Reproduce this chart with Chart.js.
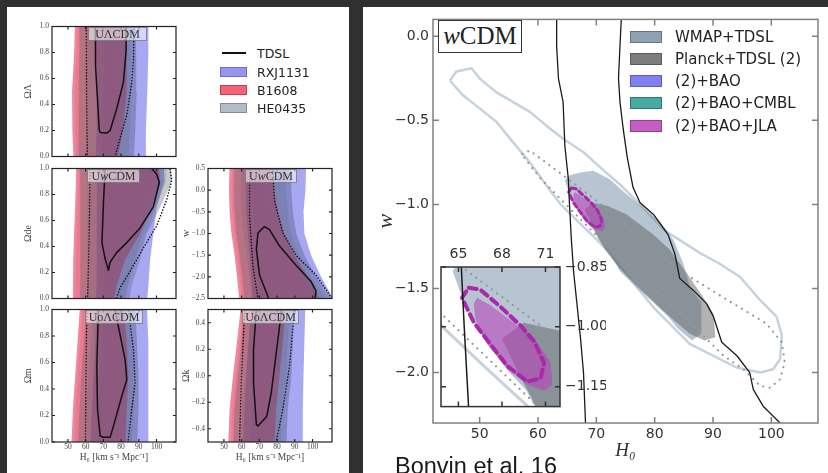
<!DOCTYPE html>
<html>
<head>
<meta charset="utf-8">
<script src="https://cdn.jsdelivr.net/npm/chart.js@4.4.1/dist/chart.umd.min.js"></script>
<style>
  body { margin: 0; width: 828px; height: 473px; overflow: hidden; position: relative; background: #303030; font-family: "DejaVu Sans", sans-serif; }
  .panel { position: absolute; background: #fff; }
  canvas { position: absolute; }
  .tag { position: absolute; box-sizing: border-box; text-align: center; font-family: "Liberation Serif", serif; color: #333;
         background: rgba(255,255,255,0.55); border: 1px solid rgba(80,80,80,0.6); font-size: 12px; line-height: 12px; }
  .row { position: absolute; display: flex; align-items: center; color: #222; white-space: nowrap; }
  .sw { box-sizing: border-box; border: 1px solid; display: inline-block; }
</style>
</head>
<body>
<div class="panel" style="left:7px;top:7px;width:342px;height:466px"></div>
<div class="panel" style="left:363px;top:7px;width:465px;height:466px"></div>

<canvas id="pA" width="170" height="145" style="left:10px;top:19px"></canvas>
<canvas id="pB" width="170" height="145" style="left:10px;top:161px"></canvas>
<canvas id="pC" width="170" height="171" style="left:10px;top:302px"></canvas>
<canvas id="pD" width="168" height="145" style="left:168px;top:161px"></canvas>
<canvas id="pE" width="168" height="171" style="left:168px;top:302px"></canvas>
<canvas id="main" width="465" height="466" style="left:363px;top:7px"></canvas>
<canvas id="inset" width="170" height="180" style="left:436px;top:240px"></canvas>

<!-- panel tags -->
<div class="tag" style="left:88px;top:27px;width:59px;height:14px">UΛCDM</div>
<div class="tag" style="left:87px;top:169px;width:53px;height:14px">U<i>w</i>CDM</div>
<div class="tag" style="left:85px;top:310px;width:58px;height:14px">UoΛCDM</div>
<div class="tag" style="left:245px;top:169px;width:52px;height:14px">U<i>w</i>CDM</div>
<div class="tag" style="left:242px;top:310px;width:57px;height:14px">UoΛCDM</div>

<!-- lens legend -->
<div class="row" style="left:220px;top:46px;height:14px;font-size:12.5px"><span style="display:inline-block;width:24px;height:2px;background:#111;margin:0 11px 0 2px"></span>TDSL</div>
<div class="row" style="left:220px;top:65px;height:14px;font-size:12.5px"><span class="sw" style="width:27px;height:10px;background:rgb(150,150,240);border-color:rgb(110,110,200);margin-right:10px"></span>RXJ1131</div>
<div class="row" style="left:220px;top:83px;height:14px;font-size:12.5px"><span class="sw" style="width:27px;height:10px;background:rgb(240,100,118);border-color:rgb(200,60,80);margin-right:10px"></span>B1608</div>
<div class="row" style="left:220px;top:101px;height:14px;font-size:12.5px"><span class="sw" style="width:27px;height:10px;background:rgb(178,188,198);border-color:rgb(130,140,150);margin-right:10px"></span>HE0435</div>

<!-- wCDM legend -->
<div class="row" style="left:630px;top:28px;height:18px;font-size:15px"><span class="sw" style="width:32px;height:12px;background:rgb(142,162,180);border-color:rgb(100,115,130);margin-right:13px"></span>WMAP+TDSL</div>
<div class="row" style="left:630px;top:50px;height:18px;font-size:15px"><span class="sw" style="width:32px;height:12px;background:rgb(125,125,125);border-color:rgb(90,90,90);margin-right:13px"></span>Planck+TDSL (2)</div>
<div class="row" style="left:630px;top:72px;height:18px;font-size:15px"><span class="sw" style="width:32px;height:12px;background:rgb(128,128,240);border-color:rgb(90,90,200);margin-right:13px"></span>(2)+BAO</div>
<div class="row" style="left:630px;top:94px;height:18px;font-size:15px"><span class="sw" style="width:32px;height:12px;background:rgb(72,170,160);border-color:rgb(40,120,110);margin-right:13px"></span>(2)+BAO+CMBL</div>
<div class="row" style="left:630px;top:117px;height:18px;font-size:15px"><span class="sw" style="width:32px;height:12px;background:rgb(195,95,195);border-color:rgb(150,60,150);margin-right:13px"></span>(2)+BAO+JLA</div>

<div style="position:absolute;left:438px;top:20px;width:84px;height:33px;box-sizing:border-box;border:1.5px solid #333;background:#fff;font-family:'Liberation Serif',serif;font-size:25px;line-height:30px;text-align:center;color:#222"><i>w</i>CDM</div>
<div style="position:absolute;left:395px;top:455px;font-family:'Liberation Sans',Arial,sans-serif;font-size:23.5px;line-height:23.5px;color:#1a1a1a;white-space:nowrap">Bonvin et al. 16</div>

<script>
// ---- tick values ----
const h0Ticks = [50, 60, 70, 80, 90, 100];
const wTicks = [0, -0.5, -1.0, -1.5, -2.0];
const insetH0Ticks = [65, 68, 71];
const insetWTicks = [-0.85, -1.0, -1.15];
const lensH0Ticks = [50, 60, 70, 80, 90, 100];
const omegaTicks = [0, 0.2, 0.4, 0.6, 0.8, 1.0];
const lensWTicks = [0.5, 0, -0.5, -1.0, -1.5, -2.0, -2.5];
const omegaKTicks = [0.4, 0.2, 0, -0.2, -0.4];

// ---- wCDM contours (H0, w) ----
const wmapOuter = [[44.9,-0.265],[46.0,-0.21],[48.6,-0.19],[50.1,-0.255],[52.9,-0.334],[58.6,-0.45],[62.1,-0.55],[64.3,-0.61],[67.8,-0.69],[71.0,-0.79],[74.0,-0.88],[77.5,-1.0],[81.5,-1.15],[87.8,-1.29],[91.0,-1.35],[94.6,-1.43],[98.1,-1.57],[100.9,-1.667],[101.8,-1.78],[101.5,-1.92],[100.3,-1.98],[98.1,-2.0],[94.0,-1.97],[90.0,-1.90],[86.0,-1.83],[80.0,-1.62],[75.0,-1.41],[72.0,-1.28],[69.8,-1.2],[66.8,-1.1],[63.9,-1.0],[61.5,-0.89],[58.6,-0.75],[55.0,-0.6],[52.9,-0.51],[50.1,-0.432],[47.2,-0.353],[44.9,-0.265]];
const wmapInner = [[64.6,-0.86],[65.2,-0.83],[67.2,-0.81],[69.5,-0.80],[72.3,-0.85],[75.2,-0.94],[78.1,-1.02],[80.9,-1.10],[83.2,-1.21],[84.9,-1.35],[86.1,-1.50],[88.0,-1.58],[88.0,-1.77],[86.4,-1.81],[84.0,-1.74],[82.1,-1.66],[78.1,-1.53],[74.1,-1.40],[72.3,-1.29],[70.4,-1.21],[69.7,-1.16],[68.4,-1.11],[67.2,-1.05],[66.1,-0.99],[65.2,-0.92]];
const planckInner = [[68.0,-1.03],[69.5,-0.99],[72.0,-1.01],[75.2,-1.06],[79.8,-1.18],[82.6,-1.27],[85.5,-1.41],[88.3,-1.55],[90.1,-1.65],[90.4,-1.79],[88.5,-1.81],[86.0,-1.77],[82.0,-1.65],[78.0,-1.52],[74.0,-1.38],[71.5,-1.27],[70.35,-1.2],[69.2,-1.12]];
const planckOuter = [[57.3,-0.70],[58.6,-0.68],[65.6,-0.86],[71.9,-1.03],[78.0,-1.22],[85.5,-1.42],[93.5,-1.59],[99.2,-1.71],[101.8,-1.82],[102.3,-1.94],[101.5,-2.04],[99.8,-2.09],[98.1,-2.08],[95.2,-1.98],[91.8,-1.9],[88.9,-1.8],[80.0,-1.5],[70.2,-1.19],[63.9,-0.97],[60.3,-0.84],[57.8,-0.73],[57.3,-0.70]];
const jlaInner = [[66.29,-0.927],[67.21,-0.946],[68.83,-0.99],[70.21,-1.028],[71.36,-1.09],[71.48,-1.145],[70.9,-1.16],[69.75,-1.145],[68.37,-1.106],[66.98,-1.044],[66.17,-0.981],[66.06,-0.942]];
const jlaOuter = [[65.71,-0.902],[66.52,-0.907],[67.9,-0.95],[69.29,-0.997],[70.21,-1.036],[70.9,-1.09],[70.67,-1.129],[69.75,-1.137],[68.37,-1.098],[67.21,-1.044],[66.06,-0.989],[65.25,-0.927],[65.71,-0.902]];
const tdslLeft = [[63.2,0.15],[63.2,-0.06],[63.5,-0.25],[64.3,-0.39],[64.6,-0.65],[65.2,-0.85],[65.4,-1.0],[65.7,-1.2],[66.1,-1.4],[66.7,-1.6],[67.3,-1.8],[67.8,-2.0],[68.2,-2.35]];
const tdslRight = [[74.35,0.15],[74.05,-0.06],[73.8,-0.25],[74.05,-0.39],[74.6,-0.55],[75.3,-0.72],[76.3,-0.9],[77.5,-0.99],[79.8,-1.06],[82.3,-1.18],[83.5,-1.3],[84.3,-1.44],[86.6,-1.51],[88.9,-1.59],[90.1,-1.67],[91.5,-1.82],[94.1,-1.9],[96.3,-2.0],[96.9,-2.1],[98.6,-2.2],[101.5,-2.3],[102,-2.35]];

// ---- single-lens bands: [left H0, right H0] at each level ----
const lcdmLevels = [1.05, 0.8, 0.5, 0.2, -0.05];
const lcdmB1608_95 = [[54,83.2],[53.5,83.2],[52.3,83.2],[52.5,81],[53.2,77.6]];
const lcdmB1608_68 = [[55.5,79],[55,79],[53.8,79],[54,77],[54.7,73.5]];
const lcdmHE0435_95 = [[56.5,88],[56.5,88.5],[56,88.8],[56,88],[56,87]];
const lcdmHE0435_68 = [[60.5,85],[60.5,85.5],[60,85.8],[60,85],[60,84]];
const lcdmRXJ_95 = [[66.3,95.4],[66.3,95.4],[66.3,94.8],[66,94],[65.5,93.5]];
const lcdmRXJ_68 = [[70.3,88],[70.3,88.5],[70.3,88.8],[70,88],[69.5,87]];
const lcdmTdsl68 = [[65.4,1.06],[65.4,1.0],[65.8,0.69],[66.7,0.44],[67.6,0.21],[68.2,0.185],[72,0.18],[73.8,0.2],[77.6,0.37],[81.3,0.57],[82.8,0.81],[82.8,1.06],[65.4,1.06]];
const lcdmTdsl95 = [[60.3,1.06],[60.5,0.5],[61,-0.06],[76.6,-0.06],[76.6,0],[79.5,0.144],[83.2,0.318],[86.0,0.566],[87,0.74],[87.3,1.06],[60.3,1.06]];

const wcdmLevels = [1.05, 0.9, 0.7, 0.5, 0.3, 0.1, -0.05];
const wcdmB1608_95 = [[54.7,101],[54.5,102],[54,97.3],[53.5,90.7],[53,82.3],[52.8,77.6],[52.8,75.5]];
const wcdmB1608_68 = [[56.2,97],[56,98],[55.5,93.5],[55,87],[54.5,79],[54.3,74.5],[54.3,72.5]];
const wcdmHE0435_95 = [[56.9,108],[56.9,108.6],[56.9,102],[56.9,94.5],[56.9,90.7],[56.9,86],[56.9,84]];
const wcdmHE0435_68 = [[60.9,105],[60.9,105.5],[60.9,99],[60.9,92],[60.9,88],[60.9,83.5],[60.9,81.5]];
const wcdmRXJ_95 = [[66.3,104],[66.3,104.5],[66.3,100.1],[66.3,98.2],[66,96.4],[66,95.4],[65.5,94.5]];
const wcdmRXJ_68 = [[70.3,101],[70.3,103],[70.3,99],[70.3,94],[70,88],[70,84],[69.5,82]];
const wcdmTdsl68 = [[71.0,1.06],[71.0,1.0],[70.1,0.755],[69.2,0.43],[71,0.305],[72.9,0.217],[73.8,0.28],[77.6,0.355],[83.2,0.43],[90.7,0.543],[98.2,0.705],[101.6,0.892],[100.1,0.955],[97.3,1.0],[97.3,1.06],[71.0,1.06]];
const wcdmTdsl95 = [[62.6,1.06],[62.0,0.5],[61.0,-0.06],[77.6,-0.06],[77.6,0.01],[79.5,0.085],[85.1,0.21],[92.6,0.39],[100.1,0.56],[105.75,0.76],[108.6,0.91],[107.6,1.0],[107.6,1.06],[62.6,1.06]];

const olcdmLevels = [1.05, 0.75, 0.5, 0.25, -0.05];
const olcdmB1608_95 = [[56.9,81.3],[55.4,83.2],[54.1,84.1],[52.8,83.2],[51.9,82.3]];
const olcdmB1608_68 = [[58.4,77.5],[56.9,79.5],[55.6,80.5],[54.3,79.5],[53.4,78.5]];
const olcdmHE0435_95 = [[60.5,87.9],[59,88.9],[57.5,89.8],[56.5,89.8],[55.5,88.9]];
const olcdmHE0435_68 = [[64.5,85],[63,86],[61.5,87],[60.5,87],[59.5,86]];
const olcdmRXJ_95 = [[66.3,94.5],[65.4,95.4],[64.5,95.4],[63.5,95.4],[62.6,95.4]];
const olcdmRXJ_68 = [[70.3,87.9],[69.4,88.9],[68.5,89.8],[67.5,89.8],[66.6,88.9]];
const olcdmTdsl68 = [[67.2,1.06],[67.2,1.0],[66.3,0.57],[66.7,0.245],[68.2,0.045],[70.1,0.035],[73.8,0.035],[75.7,0.12],[80.4,0.345],[83.2,0.47],[82.3,0.62],[78.5,0.87],[76.6,1.0],[76.6,1.06],[67.2,1.06]];
const olcdmTdsl95 = [[60.7,1.06],[60.2,0.5],[59.8,-0.06],[84.1,-0.06],[84.1,0.02],[86.0,0.245],[87.9,0.445],[87,0.695],[84.1,1.0],[84.1,1.06],[60.7,1.06]];

const wLevels = [0.6, 0, -0.5, -1.0, -1.5, -2.0, -2.6];
const wB1608_95 = [[53.2,77.6],[52.8,78.5],[53.2,80.4],[54.2,84.1],[56,89.8],[57.4,97.3],[58.8,105]];
const wB1608_68 = [[54.7,73.5],[54.3,74.5],[54.7,76.5],[55.7,80],[57.5,85.5],[58.9,93],[60.3,101]];
const wHE0435_95 = [[56,88],[55.6,88],[56,88.9],[57,90.8],[58.8,95.4],[60.3,102],[61.6,112]];
const wHE0435_68 = [[60,85],[59.6,85],[60,86],[61,87.8],[62.8,92.4],[64.3,99],[65.6,109]];
const wRXJ_95 = [[62.6,96.4],[62.2,96],[62.6,94.9],[63.5,95.4],[64.5,99.2],[65.4,104.8],[66.3,113]];
const wRXJ_68 = [[66.6,88],[66.2,88],[66.6,88.9],[67.5,90.8],[68.5,95.4],[69.4,102],[70.3,110]];
const wTdsl68 = [[72.9,-0.84],[69.2,-0.99],[68.3,-1.36],[70.1,-1.96],[74.8,-2.45],[75.5,-2.6],[101,-2.6],[102,-2.33],[99.2,-2.11],[90.8,-1.74],[81.4,-1.29],[75.7,-0.91],[72.9,-0.84]];
const wTdsl95 = [[64.5,0.6],[64.5,-0.61],[66.3,-1.74],[69.2,-2.5],[69.5,-2.6],[112,-2.6],[109.5,-2.41],[102,-1.96],[90.8,-1.51],[83.2,-0.985],[78.5,-0.235],[77.6,0.5],[77.6,0.6],[64.5,0.6]];

const okLevels = [0.55, 0.25, 0, -0.25, -0.55];
const okB1608_95 = [[59.8,85.1],[57.3,83.2],[55.1,81.3],[53.2,79.5],[52.3,78.5]];
const okB1608_68 = [[61.3,81],[58.8,79],[56.6,77],[54.7,75.5],[53.8,74.5]];
const okHE0435_95 = [[61.6,89.8],[59.8,88.9],[57.9,88],[56,86],[55.1,85.1]];
const okHE0435_68 = [[65.6,87],[63.8,86],[61.9,85],[60,83],[59.1,82]];
const okRXJ_95 = [[65.4,96],[63.9,95.4],[62.6,94.9],[61.6,94.5],[60.7,94.1]];
const okRXJ_68 = [[69.4,89.8],[67.9,88.9],[66.6,88],[65.6,86],[64.7,85.1]];
const okTdsl68 = [[68.3,0.56],[68.3,0.5],[66.7,0.195],[66.7,-0.055],[68.3,-0.367],[69.2,-0.38],[74.2,-0.305],[76.7,-0.13],[79.5,0.17],[82.3,0.47],[82.4,0.56],[68.3,0.56]];
const okTdsl95 = [[61.7,0.56],[61.7,0.5],[59.8,-0.05],[58.8,-0.5],[58.8,-0.56],[79.4,-0.56],[79.5,-0.5],[83.2,-0.255],[87.0,0.07],[89.8,0.5],[89.8,0.56],[61.7,0.56]];

// ---- helpers ----
Chart.defaults.font.family = 'DejaVu Sans';

const fmt = (v, dec) => (v < 0 ? '\u2212' : '') + Math.abs(v).toFixed(dec);
const toXY = pts => pts.map(p => ({ x: p[0], y: p[1] }));

// closed polygon from the left and right edges of a band
function band(levels, pairs) {
  const left = levels.map((y, i) => [pairs[i][0], y]);
  const right = levels.map((y, i) => [pairs[i][1], y]).reverse();
  return left.concat(right);
}

function layer(pts, style) {
  return Object.assign({
    data: toXY(pts), showLine: true, pointRadius: 0, pointHoverRadius: 0,
    tension: 0, clip: 0, fill: false, borderWidth: 0, borderColor: 'rgba(0,0,0,0)'
  }, style);
}
const filled = (pts, color) => layer(pts, { fill: 'shape', backgroundColor: color });
const stroked = (pts, color, width, dash) => layer(pts, {
  borderColor: color, borderWidth: width, borderDash: dash || [],
  borderCapStyle: dash ? 'round' : 'butt', borderJoinStyle: 'round'
});

// datasets are listed bottom to top; Chart.js draws low "order" last
const stack = list => list.map((d, i) => Object.assign(d, { order: list.length - i }));

// box around the plot area with inward ticks on all four sides
const framePlugin = {
  id: 'frame',
  beforeDatasetsDraw(chart, args, opts) {
    if (!opts.background) return;
    const a = chart.chartArea, ctx = chart.ctx;
    ctx.save();
    ctx.fillStyle = opts.background;
    ctx.fillRect(a.left, a.top, a.width, a.height);
    ctx.restore();
  },
  afterDatasetsDraw(chart, args, opts) {
    const { ctx, chartArea: a, scales } = chart;
    const t = opts.tick;
    ctx.save();
    ctx.strokeStyle = opts.color;
    ctx.lineWidth = opts.width;
    ctx.beginPath();
    for (const tk of scales.x.ticks) {
      const p = scales.x.getPixelForValue(tk.value);
      ctx.moveTo(p, a.bottom); ctx.lineTo(p, a.bottom - t);
      ctx.moveTo(p, a.top); ctx.lineTo(p, a.top + t);
    }
    for (const tk of scales.y.ticks) {
      const p = scales.y.getPixelForValue(tk.value);
      ctx.moveTo(a.left, p); ctx.lineTo(a.left + t, p);
      ctx.moveTo(a.right, p); ctx.lineTo(a.right - t, p);
    }
    ctx.stroke();
    ctx.strokeRect(a.left, a.top, a.width, a.height);
    ctx.restore();
  }
};

function axis(o) {
  return {
    type: 'linear', position: o.position, min: o.min, max: o.max,
    afterBuildTicks: s => { s.ticks = o.ticks.map(v => ({ value: v })); },
    afterFit: s => { if (s.isHorizontal()) s.height = o.size; else s.width = o.size; },
    grid: { display: false, drawTicks: false },
    border: { display: false },
    ticks: {
      display: o.labels !== false, autoSkip: false, maxRotation: 0, minRotation: 0,
      padding: o.pad || 0, color: o.color, font: o.font,
      callback: v => fmt(v, o.dec)
    },
    title: o.title
      ? { display: true, text: o.title, color: o.color, font: o.titleFont, padding: o.titlePad }
      : { display: false }
  };
}

function makeChart(id, datasets, cfg) {
  return new Chart(document.getElementById(id), {
    type: 'scatter',
    data: { datasets: stack(datasets) },
    options: {
      responsive: false, animation: false, events: [],
      layout: { padding: cfg.padding },
      scales: { x: cfg.x, y: cfg.y },
      plugins: { legend: { display: false }, tooltip: { enabled: false }, frame: cfg.frame }
    },
    plugins: [framePlugin]
  });
}

// ---- main wCDM panel ----
const mainTickFont = { family: 'DejaVu Sans', size: 14 };
makeChart('main', [
  stroked(wmapOuter, 'rgb(198,211,222)', 2.5),
  filled(wmapInner, 'rgba(112,140,165,0.5)'),
  filled(planckInner, 'rgba(85,85,85,0.45)'),
  stroked(planckOuter, 'rgb(150,150,150)', 2.2, [0.01, 6.5]),
  filled(jlaInner, 'rgba(185,60,185,0.55)'),
  stroked(jlaOuter, 'rgb(170,40,170)', 3, [5, 3.5]),
  stroked(tdslLeft, '#1a1a1a', 1.3),
  stroked(tdslRight, '#1a1a1a', 1.3)
], {
  padding: { left: 10, top: 8, right: 10, bottom: 0 },
  x: axis({ position: 'bottom', min: 42, max: 108, ticks: h0Ticks, size: 50, pad: 3, dec: 0,
            font: mainTickFont, color: '#333', title: 'H\u2080',
            titleFont: { family: 'Liberation Serif', size: 19, style: 'italic' }, titlePad: { top: 0, bottom: 11 } }),
  y: axis({ position: 'left', min: -2.3, max: 0.1, ticks: wTicks, size: 60, pad: 4, dec: 1,
            font: mainTickFont, color: '#333', title: 'w',
            titleFont: { family: 'Liberation Serif', size: 22, style: 'italic' }, titlePad: { top: 0, bottom: 0 } }),
  frame: { color: '#808080', width: 1.5, tick: 6 }
});

// ---- zoomed inset ----
makeChart('inset', [
  stroked(wmapOuter, 'rgb(198,211,222)', 3),
  filled(wmapInner, 'rgba(112,140,165,0.5)'),
  filled(planckInner, 'rgba(85,85,85,0.45)'),
  stroked(planckOuter, 'rgb(150,150,150)', 2.2, [0.01, 6.5]),
  filled(jlaInner, 'rgba(185,60,185,0.55)'),
  stroked(jlaOuter, 'rgb(170,40,170)', 4, [8, 5]),
  stroked(tdslLeft, '#1a1a1a', 1.5),
  stroked(tdslRight, '#1a1a1a', 1.5)
], {
  padding: { left: 5, top: 0, right: 0, bottom: 4 },
  x: axis({ position: 'top', min: 63.8, max: 72, ticks: insetH0Ticks, size: 27, pad: 4, dec: 0,
            font: mainTickFont, color: '#333' }),
  y: axis({ position: 'right', min: -1.2, max: -0.85, ticks: insetWTicks, size: 46, pad: 5, dec: 2,
            font: mainTickFont, color: '#333' }),
  frame: { color: '#333', width: 1.5, tick: 5, background: '#fff' }
});

// ---- single-lens panels ----
const lensTickFont = { family: 'Liberation Serif', size: 7.5 };
const lensTitleFont = { family: 'Liberation Serif', size: 10 };

function lensSets(levels, rxj95, rxj68, b95, b68, he95, he68, tdsl68, tdsl95) {
  return [
    filled(band(levels, rxj95), 'rgba(80,80,230,0.5)'),
    filled(band(levels, rxj68), 'rgba(80,80,230,0.15)'),
    filled(band(levels, b95), 'rgba(220,20,60,0.5)'),
    filled(band(levels, b68), 'rgba(220,20,60,0.12)'),
    filled(band(levels, he95), 'rgba(90,100,115,0.35)'),
    filled(band(levels, he68), 'rgba(90,100,115,0.2)'),
    stroked(tdsl95, '#111', 1.6, [0.01, 3]),
    stroked(tdsl68, '#111', 1.5)
  ];
}

function lensPanel(id, sets, o) {
  makeChart(id, sets, {
    padding: { left: 0, top: 6, right: 4, bottom: o.bottomRow ? 0 : 5 },
    x: axis({ position: 'bottom', min: 41, max: 111, ticks: lensH0Ticks, size: o.bottomRow ? 31 : 0,
              labels: !!o.bottomRow, pad: 1, dec: 0, font: lensTickFont, color: '#444',
              title: o.bottomRow ? 'H\u2080 [km s\u207B\u00B9 Mpc\u207B\u00B9]' : null,
              titleFont: { family: 'Liberation Serif', size: 9.5 }, titlePad: { top: 0, bottom: 10 } }),
    y: axis({ position: 'left', min: o.min, max: o.max, ticks: o.ticks, size: o.left, pad: 3, dec: 1,
              font: lensTickFont, color: '#444', title: o.title, titleFont: lensTitleFont,
              titlePad: { top: 12, bottom: 0 } }),
    frame: { color: '#222', width: 1.2, tick: 3 }
  });
}

lensPanel('pA', lensSets(lcdmLevels, lcdmRXJ_95, lcdmRXJ_68, lcdmB1608_95, lcdmB1608_68, lcdmHE0435_95, lcdmHE0435_68, lcdmTdsl68, lcdmTdsl95),
  { left: 42, min: 0, max: 1, ticks: omegaTicks, title: '\u03A9\u039B' });
lensPanel('pB', lensSets(wcdmLevels, wcdmRXJ_95, wcdmRXJ_68, wcdmB1608_95, wcdmB1608_68, wcdmHE0435_95, wcdmHE0435_68, wcdmTdsl68, wcdmTdsl95),
  { left: 42, min: 0, max: 1, ticks: omegaTicks, title: '\u03A9de' });
lensPanel('pC', lensSets(olcdmLevels, olcdmRXJ_95, olcdmRXJ_68, olcdmB1608_95, olcdmB1608_68, olcdmHE0435_95, olcdmHE0435_68, olcdmTdsl68, olcdmTdsl95),
  { left: 42, min: 0, max: 1, ticks: omegaTicks, title: '\u03A9m', bottomRow: true });
lensPanel('pD', lensSets(wLevels, wRXJ_95, wRXJ_68, wB1608_95, wB1608_68, wHE0435_95, wHE0435_68, wTdsl68, wTdsl95),
  { left: 40, min: -2.5, max: 0.5, ticks: lensWTicks, title: 'w' });
lensPanel('pE', lensSets(okLevels, okRXJ_95, okRXJ_68, okB1608_95, okB1608_68, okHE0435_95, okHE0435_68, okTdsl68, okTdsl95),
  { left: 40, min: -0.5, max: 0.5, ticks: omegaKTicks, title: '\u03A9k', bottomRow: true });
</script>
</body>
</html>
